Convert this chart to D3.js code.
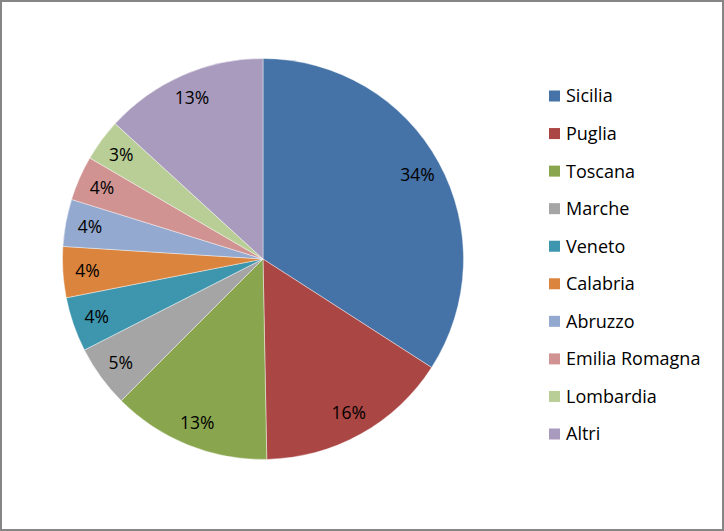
<!DOCTYPE html>
<html>
<head>
<meta charset="utf-8">
<script src="https://cdn.jsdelivr.net/npm/d3@7/dist/d3.min.js"></script>
<style>
html,body{margin:0;padding:0;background:#fff;}
svg{display:block;}
text{font-family:"Open Sans","Lato",sans-serif;fill:#000;}
</style>
</head>
<body>
<script>
const categories = ["Sicilia","Puglia","Toscana","Marche","Veneto","Calabria","Abruzzo","Emilia Romagna","Lombardia","Altri"];
const values = [34.1,15.6,12.8,5.0,4.4,4.1,3.8,3.6,3.4,13.2];
const colors = ["#4572A7","#AA4643","#89A54E","#A5A5A5","#3D96AE","#DB843D","#93A9CF","#D19392","#B9CD96","#A99BBD"];

const W = 724, H = 531;
const cx = 263, cy = 259, R = 200.5;
const labelR = 176;

const svg = d3.select("body").append("svg").attr("width", W).attr("height", H);
svg.append("rect").attr("x",1).attr("y",1).attr("width",W-2).attr("height",H-2)
  .attr("fill","#fff").attr("stroke","#868686").attr("stroke-width",2);

const data = categories.map((c,i)=>({name:c, value:values[i], color:colors[i]}));
const total = d3.sum(values);
const pie = d3.pie().value(d=>d.value).sort(null);
const arcs = pie(data);
const arc = d3.arc().innerRadius(0).outerRadius(R);
const labelArc = d3.arc().innerRadius(labelR).outerRadius(labelR);

const g = svg.append("g").attr("transform",`translate(${cx},${cy})`);
g.selectAll("path").data(arcs).enter().append("path")
  .attr("d",arc).attr("fill",d=>d.data.color)
  .attr("stroke","#fff").attr("stroke-width",0.6).attr("stroke-opacity",0.7);

g.selectAll("text.lbl").data(arcs).enter().append("text").attr("class","lbl")
  .attr("transform",d=>`translate(${labelArc.centroid(d)})`)
  .attr("text-anchor","middle").attr("dy","0.36em")
  .style("font-size","17.5px")
  .text(d=>Math.round(d.data.value/total*100)+"%");

const legendY = d3.scalePoint().domain(categories).range([96,434]);
const lg = svg.append("g");
const items = lg.selectAll("g").data(data).enter().append("g")
  .attr("transform",d=>`translate(549,${legendY(d.name)})`);
items.append("rect").attr("x",0).attr("y",-5.5).attr("width",11).attr("height",11).attr("fill",d=>d.color);
items.append("text").attr("x",17).attr("dy","0.36em").style("font-size","18px").text(d=>d.name);
</script>
</body>
</html>
